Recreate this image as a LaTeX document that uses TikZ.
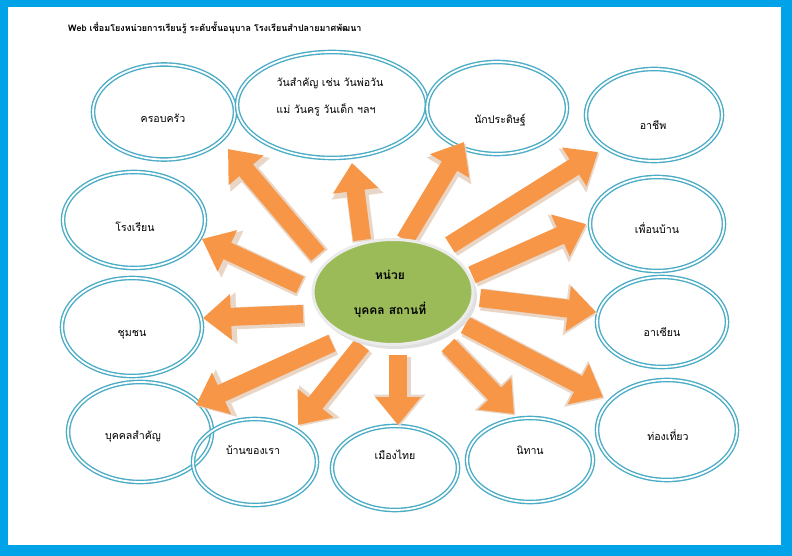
\documentclass[tikz,border=0pt]{standalone}
\usepackage{fontspec}
\newfontfamily\thaifont[Script=Thai]{Loma}
\usetikzlibrary{shapes.geometric,arrows.meta}
\definecolor{frameblue}{HTML}{00A2E8}
\definecolor{ringblue}{HTML}{4BACC6}
\definecolor{arroworange}{HTML}{F79646}
\definecolor{arrowshade}{HTML}{E9D6C6}
\definecolor{hubgreen}{HTML}{9BBB59}
\tikzset{
  ring/.style={ellipse, draw=ringblue, double=white, double distance=1.8pt, line width=1.4pt, inner sep=0pt},
  hubnode/.style={ellipse, fill=hubgreen, draw=white!92!black, line width=3pt, inner sep=0pt},
  lbl/.style={font=\thaifont\fontsize{10.6}{12}\selectfont, inner sep=0pt},
  hublbl/.style={font=\thaifont\bfseries\fontsize{12}{14}\selectfont, inner sep=0pt},
  arrshade/.style={draw=arrowshade, line width=22pt, -{Triangle[width=50pt,length=32pt]}},
  arrmain/.style={draw=arroworange, line width=18pt, -{Triangle[width=44pt,length=28pt]}}
}
\newcommand\bigarr[2]{%
  \draw[arrshade] ([shift={(1.5,1.5)}]#1) -- ([shift={(1.5,1.5)}]#2);
  \draw[arrmain] (#1) -- (#2);}
\begin{document}
\begin{tikzpicture}[x=1pt,y=-1pt]
\useasboundingbox (0,0) rectangle (792,556);
\fill[frameblue] (0,0) rectangle (792,556);
\fill[white] (8,7) rectangle (781,545);
\node[font=\thaifont\bfseries\fontsize{9}{11}\selectfont, anchor=west, inner sep=0pt] (title) at (68,28) {Web เชื่อมโยงหน่วยการเรียนรู้ ระดับชั้นอนุบาล โรงเรียนสำปลายมาศพัฒนา};

% outer ellipses
\node[ring, minimum width=142pt, minimum height=95pt] (fam) at (164,112) {};
\node[ring, minimum width=190pt, minimum height=106pt] (day) at (332,105) {};
\node[ring, minimum width=140pt, minimum height=92pt] (inv) at (497,108) {};
\node[ring, minimum width=136pt, minimum height=92pt] (job) at (654,115) {};
\node[ring, minimum width=142pt, minimum height=96pt] (sch) at (134,220) {};
\node[ring, minimum width=134pt, minimum height=94pt] (nbr) at (657,224) {};
\node[ring, minimum width=140pt, minimum height=98pt] (com) at (132,327) {};
\node[ring, minimum width=130pt, minimum height=90pt] (asean) at (662,322) {};
\node[ring, minimum width=140pt, minimum height=100pt] (trv) at (667,430) {};
\node[ring, minimum width=144pt, minimum height=100pt] (vip) at (140,432) {};
\node[ring, minimum width=124pt, minimum height=86pt] (home) at (255,462) {};
\node[ring, minimum width=126pt, minimum height=84pt] (thai) at (395,468) {};
\node[ring, minimum width=126pt, minimum height=84pt] (tale) at (530,460) {};

\node[lbl] (famt) at (163,118) {ครอบครัว};
\node[lbl] (dayt1) at (330,83) {วันสำคัญ เช่น วันพ่อวัน};
\node[lbl] (dayt2) at (326,110) {แม่ วันครู วันเด็ก ฯลฯ};
\node[lbl] (invt) at (500,120) {นักประดิษฐ์};
\node[lbl] (jobt) at (653,125) {อาชีพ};
\node[lbl] (scht) at (135,227) {โรงเรียน};
\node[lbl] (nbrt) at (657,228) {เพื่อนบ้าน};
\node[lbl] (comt) at (132,335) {ชุมชน};
\node[lbl] (aseant) at (662,332) {อาเซียน};
\node[lbl] (trvt) at (668,435) {ท่องเที่ยว};
\node[lbl] (vipt) at (133,437) {บุคคลสำคัญ};
\node[lbl] (homet) at (253,450) {บ้านของเรา};
\node[lbl] (thait) at (395,455) {เมืองไทย};
\node[lbl] (talet) at (530,450) {นิทาน};

% arrow ends
\coordinate (t1) at (318,255); \coordinate (h1) at (228,149);
\coordinate (t2) at (362,240); \coordinate (h2) at (352,163);
\coordinate (t3) at (405,240); \coordinate (h3) at (464,142);
\coordinate (t4) at (450,245); \coordinate (h4) at (598,152);
\coordinate (t5) at (472,275); \coordinate (h5) at (586,224);
\coordinate (t6) at (480,298); \coordinate (h6) at (596,312);
\coordinate (t7) at (465,325); \coordinate (h7) at (603,397);
\coordinate (t8) at (448,345); \coordinate (h8) at (514,414);
\coordinate (t9) at (398,355); \coordinate (h9) at (398,425);
\coordinate (t10) at (362,345); \coordinate (h10) at (298,425);
\coordinate (t11) at (332,343); \coordinate (h11) at (196,405);
\coordinate (t12) at (303,314); \coordinate (h12) at (203,318);
\coordinate (t13) at (300,285); \coordinate (h13) at (202,239);

\bigarr{t1}{h1}
\bigarr{t2}{h2}
\bigarr{t3}{h3}
\bigarr{t4}{h4}
\bigarr{t5}{h5}
\bigarr{t6}{h6}
\bigarr{t7}{h7}
\bigarr{t8}{h8}
\bigarr{t9}{h9}
\bigarr{t10}{h10}
\bigarr{t11}{h11}
\bigarr{t12}{h12}
\bigarr{t13}{h13}

% hub
\fill[black!12] (396,296) ellipse [x radius=81pt, y radius=53pt];
\node[hubnode, minimum width=160pt, minimum height=105pt] (hub) at (393,292) {};
\node[hublbl] (hubt1) at (390,275) {หน่วย};
\node[hublbl] (hubt2) at (390,310) {บุคคล สถานที่};
\end{tikzpicture}
\end{document}
